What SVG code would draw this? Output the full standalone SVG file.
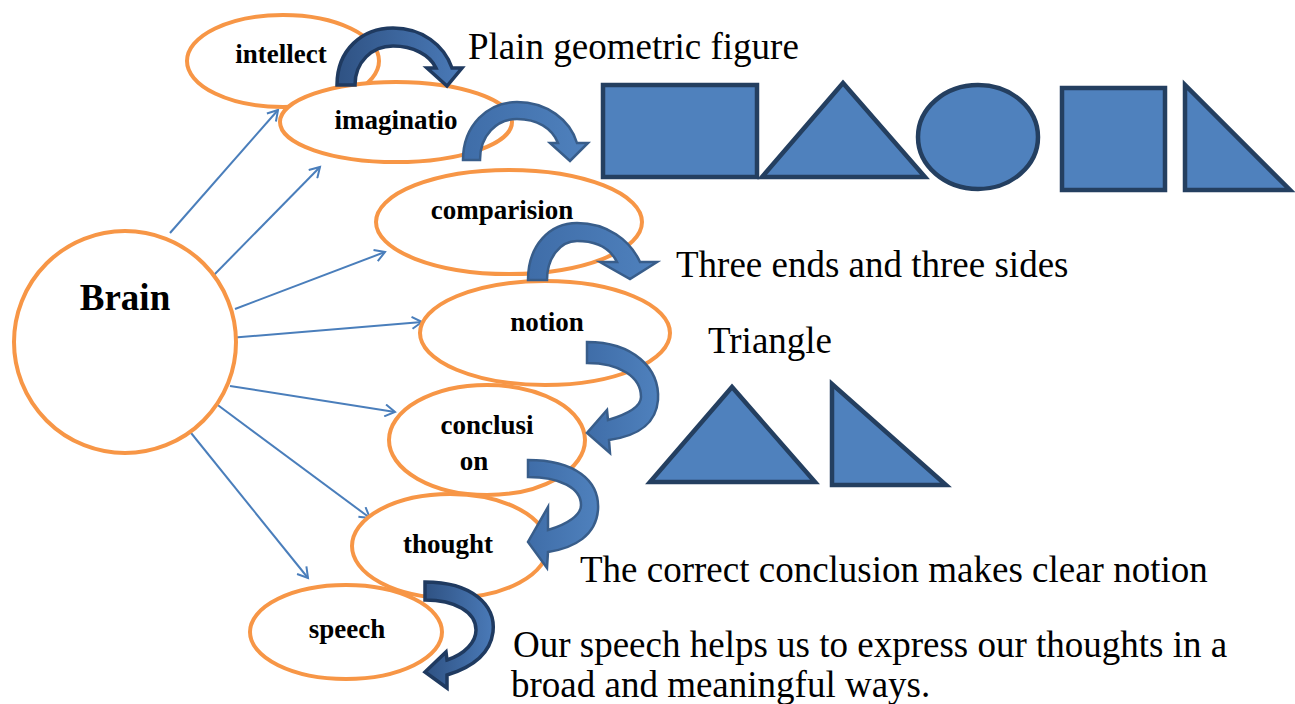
<svg xmlns="http://www.w3.org/2000/svg" width="1295" height="704" viewBox="0 0 1295 704">
<style>
.node{fill:#fff;stroke:#F79646;stroke-width:4}
.lbl{font-family:"Liberation Serif",serif;font-weight:bold;font-size:27px;fill:#000;text-anchor:middle}
.note{font-family:"Liberation Serif",serif;font-size:37px;fill:#000}
.conn{stroke:#4A7EBB;stroke-width:2;fill:none;marker-end:url(#ah)}
.shape{fill:#4F81BD;stroke:#243F60;stroke-width:4.5}
.carrow{fill:url(#ag);stroke:#385D8A;stroke-width:2.5;stroke-linejoin:miter}
.carrowd{fill:url(#ag2);stroke:#1F3A60;stroke-width:3.5;stroke-linejoin:miter}
</style>
<defs>
<marker id="ah" markerWidth="14" markerHeight="14" refX="11" refY="7" orient="auto" markerUnits="userSpaceOnUse">
<path d="M1,1 L11,7 L1,13" fill="none" stroke="#4A7EBB" stroke-width="2"/>
</marker>
<linearGradient id="ag" x1="0" y1="0" x2="1" y2="0">
<stop offset="0" stop-color="#3F6DA8"/>
<stop offset="1" stop-color="#4F81BD"/>
</linearGradient>
<linearGradient id="ag2" x1="0" y1="0" x2="1" y2="0">
<stop offset="0" stop-color="#2F5283"/>
<stop offset="1" stop-color="#4A7AB8"/>
</linearGradient>
</defs>

<g id="connectors">
<line class="conn" x1="170" y1="233" x2="278" y2="110"/>
<line class="conn" x1="211" y1="278" x2="320" y2="167"/>
<line class="conn" x1="235" y1="309" x2="385" y2="252"/>
<line class="conn" x1="229" y1="338" x2="422" y2="322"/>
<line class="conn" x1="230" y1="386" x2="395" y2="412"/>
<line class="conn" x1="211" y1="400" x2="370" y2="518"/>
<line class="conn" x1="183" y1="423" x2="308" y2="578"/>
</g>

<g id="brain">
<circle class="node" cx="125" cy="342" r="111"/>
<text class="lbl" x="125" y="310" style="font-size:37px">Brain</text>
</g>
<g id="intellect">
<ellipse class="node" cx="283" cy="61" rx="96" ry="46"/>
<text class="lbl" x="281" y="63">intellect</text>
</g>
<g id="imaginatio">
<ellipse class="node" cx="396" cy="122" rx="116" ry="40"/>
<text class="lbl" x="396" y="129">imaginatio</text>
</g>
<g id="comparision">
<ellipse class="node" cx="509" cy="222" rx="133" ry="52"/>
<text class="lbl" x="502" y="219">comparision</text>
</g>
<g id="notion">
<ellipse class="node" cx="545" cy="333" rx="125" ry="52"/>
<text class="lbl" x="547" y="331">notion</text>
</g>
<g id="conclusion">
<ellipse class="node" cx="487" cy="440" rx="98" ry="55"/>
<text class="lbl" x="487" y="434">conclusi</text>
<text class="lbl" x="474" y="470">on</text>
</g>
<g id="thought">
<ellipse class="node" cx="450" cy="546" rx="98" ry="52"/>
<text class="lbl" x="448" y="553">thought</text>
</g>
<g id="speech">
<ellipse class="node" cx="346" cy="632" rx="96" ry="47"/>
<text class="lbl" x="347" y="638">speech</text>
</g>

<g id="curved-arrows">
<path class="carrowd" d="M337,85 C337,50 362,28 393,28 C422,28 444,45 452,68 L462,68 L447,86 L427,68 L436,68 C430,55 413,46 393,46 C372,46 355,62 355,85 Z"/>
<path class="carrow" d="M463,160 C463,125 488,102 517,102 C547,102 570,120 577,143 L588,143 L570,161 L550,143 L558,143 C552,128 537,119 517,119 C497,119 480,135 480,160 Z"/>
<path class="carrow" d="M528,280 C528,245 550,223 577,223 C607,223 630,240 640,262 L657,262 L630,279 L600,262 L617,262 C610,248 596,241 577,241 C560,241 547,258 547,280 Z"/>
<path class="carrow" d="M587,342 C633,342 660,368 658,400 C656,425 637,436 609,440 L610,453 L587,433 L607,410 L608,420 C628,414 641,407 641,397 C641,377 620,363 587,363 Z"/>
<path class="carrow" d="M528,460 C574,460 600,480 598,510 C596,535 575,548 548,552 L547,568 L528,542 L548,507 L548,530 C568,524 581,515 581,505 C581,488 560,477 528,477 Z"/>
<path class="carrowd" d="M425,582 C472,582 496,605 493,632 C490,655 470,668 447,675 L447,688 L425,672 L446,652 L447,660 C465,654 476,642 476,630 C476,612 455,600 425,600 Z"/>
</g>

<g id="shapes-top">
<rect class="shape" x="603" y="85" width="154" height="92"/>
<polygon class="shape" points="843,83 762,177 925,177"/>
<ellipse class="shape" cx="978" cy="137" rx="60" ry="52"/>
<rect class="shape" x="1062" y="88" width="103" height="102"/>
<polygon class="shape" points="1185,85 1185,190 1290,190"/>
</g>
<g id="shapes-bottom">
<polygon class="shape" points="732,387 650,482 815,482"/>
<polygon class="shape" points="832,384 832,485 946,485"/>
</g>

<g id="notes">
<text class="note" x="468" y="59">Plain geometric figure</text>
<text class="note" x="676" y="277">Three ends and three sides</text>
<text class="note" x="708" y="353">Triangle</text>
<text class="note" x="580" y="582">The correct conclusion makes clear notion</text>
<text class="note" x="513" y="657">Our speech helps us to express our thoughts in a</text>
<text class="note" x="511" y="697">broad and meaningful ways.</text>
</g>
</svg>
